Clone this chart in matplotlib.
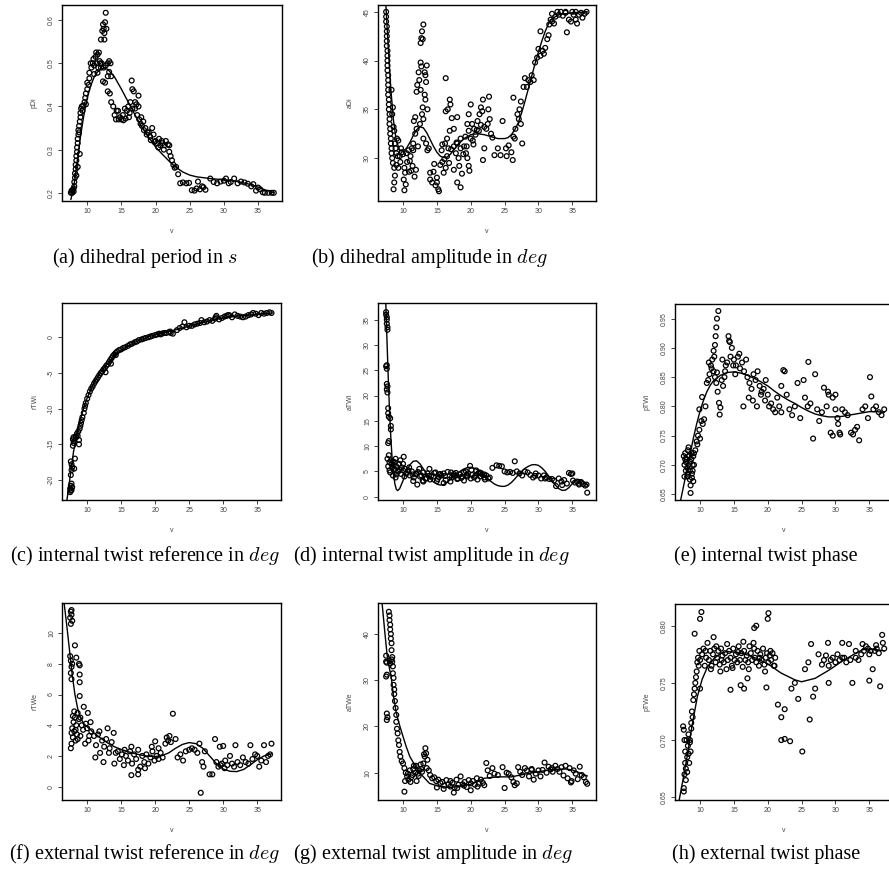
import matplotlib
matplotlib.use("Agg")
import matplotlib.pyplot as plt

plt.rcParams["font.family"] = ["Liberation Sans", "DejaVu Sans"]
plt.rcParams["mathtext.fontset"] = "cm"

# ---------------- data ----------------
x_ticks = [10, 15, 20, 25, 30, 35]

# (a) dihedral period
pdi_v = [7.6, 7.7, 7.8, 7.9, 8.0, 8.0, 8.1, 8.1, 8.2, 8.2,
         8.3, 8.3, 8.4, 8.4, 8.5, 8.5, 8.6, 8.6, 8.7, 8.7,
         8.8, 8.9, 9.0, 9.0, 9.1, 9.2, 9.4, 9.6, 9.7, 9.8,
         10.0, 10.0, 10.2, 10.3, 10.3, 10.5, 10.8, 11.0, 11.2, 11.3,
         11.5, 11.7, 11.8, 11.9, 12.0, 11.5, 11.0, 12.0, 12.2, 12.3,
         12.4, 12.5, 12.6, 12.7, 12.8, 12.5, 12.3, 12.6, 12.7, 13.0,
         13.2, 13.4, 13.2, 13.0, 13.5, 13.0, 13.3, 13.5, 13.8, 14.0,
         14.2, 14.5, 14.8, 15.0, 15.2, 15.5, 15.8, 16.0, 16.2, 16.3,
         16.5, 16.6, 16.8, 17.0, 17.0, 17.3, 17.5, 17.6, 17.8, 18.0,
         18.2, 18.5, 18.7, 19.0, 19.2, 19.5, 19.7, 20.0, 20.2, 20.5,
         20.7, 21.0, 21.3, 21.5, 21.8, 22.0, 22.0, 22.2, 22.4, 22.6,
         22.8, 23.0, 23.3, 23.6, 24.0, 24.5, 24.9, 25.3, 25.7, 26.0,
         26.2, 26.5, 26.8, 27.0, 27.3, 28.0, 28.5, 29.0, 29.5, 30.0,
         30.3, 30.7, 31.0, 31.5, 32.0, 32.5, 33.0, 33.5, 34.0, 34.3,
         34.7, 35.0, 35.3, 35.7, 36.0, 36.5, 37.0, 37.3, 10.6, 10.9,
         11.4, 11.6, 12.1, 12.4, 14.3, 14.6, 15.3, 15.6, 16.1, 16.6,
         17.2, 17.9, 18.3, 18.8, 19.3, 19.8, 20.4, 20.9, 21.2, 17.5,
         9.8, 9.3, 8.8, 8.9, 8.6, 8.4]
pdi_y = [0.200, 0.205, 0.200, 0.207, 0.203, 0.210, 0.215, 0.225, 0.235, 0.245,
         0.255, 0.265, 0.275, 0.285, 0.295, 0.305, 0.315, 0.325, 0.335, 0.345,
         0.355, 0.365, 0.375, 0.385, 0.395, 0.400, 0.402, 0.410, 0.420, 0.430,
         0.440, 0.455, 0.450, 0.465, 0.478, 0.500, 0.500, 0.495, 0.515, 0.525,
         0.520, 0.525, 0.505, 0.500, 0.490, 0.478, 0.475, 0.555, 0.575, 0.590,
         0.580, 0.570, 0.595, 0.617, 0.580, 0.555, 0.458, 0.455, 0.495, 0.500,
         0.505, 0.500, 0.480, 0.470, 0.470, 0.435, 0.430, 0.410, 0.400, 0.380,
         0.370, 0.390, 0.375, 0.370, 0.380, 0.395, 0.390, 0.400, 0.385, 0.410,
         0.460, 0.440, 0.435, 0.410, 0.395, 0.380, 0.400, 0.370, 0.360, 0.355,
         0.365, 0.350, 0.335, 0.340, 0.330, 0.350, 0.335, 0.320, 0.315, 0.325,
         0.310, 0.315, 0.310, 0.320, 0.312, 0.310, 0.295, 0.285, 0.275, 0.265,
         0.258, 0.260, 0.243, 0.222, 0.224, 0.222, 0.223, 0.206, 0.205, 0.210,
         0.226, 0.208, 0.215, 0.213, 0.207, 0.233, 0.225, 0.222, 0.226, 0.228,
         0.233, 0.222, 0.225, 0.233, 0.222, 0.226, 0.224, 0.221, 0.215, 0.220,
         0.205, 0.212, 0.208, 0.201, 0.200, 0.200, 0.200, 0.200, 0.490, 0.510,
         0.500, 0.490, 0.500, 0.490, 0.390, 0.370, 0.368, 0.372, 0.375, 0.395,
         0.405, 0.375, 0.345, 0.340, 0.322, 0.318, 0.305, 0.320, 0.300, 0.425,
         0.405, 0.390, 0.340, 0.290, 0.260, 0.240]
pdi_fit_v = [7.6, 8, 8.5, 9, 9.5, 10, 10.5, 11, 11.5, 12, 12.5, 13, 14, 15, 16,
             17, 18, 19, 20, 21, 22, 23, 24, 25, 26, 28, 30, 32, 34, 35, 36, 37.3]
pdi_fit = [0.185, 0.21, 0.27, 0.33, 0.38, 0.42, 0.448, 0.468, 0.48, 0.487, 0.489,
           0.486, 0.468, 0.44, 0.41, 0.38, 0.352, 0.328, 0.306, 0.289, 0.273,
           0.259, 0.248, 0.241, 0.237, 0.233, 0.230, 0.226, 0.219, 0.213, 0.207, 0.200]

# (b) dihedral amplitude
adi_v = [7.5, 7.5, 7.5, 7.6, 7.6, 7.6, 7.6, 7.6, 7.7, 7.7,
         7.7, 7.7, 7.7, 7.8, 7.8, 7.8, 7.8, 7.8, 7.9, 7.9,
         7.9, 8.0, 8.0, 8.0, 8.1, 8.1, 8.2, 8.2, 8.3, 8.3,
         8.4, 8.5, 8.5, 8.3, 8.4, 8.6, 8.7, 8.8, 8.9, 9.0,
         9.1, 9.3, 9.5, 8.7, 8.8, 8.7, 8.6, 9.0, 9.3, 9.6,
         9.8, 10.0, 10.2, 10.3, 10.1, 10.4, 10.2, 10.5, 10.8, 11.0,
         11.2, 11.5, 11.5, 11.8, 11.4, 11.7, 11.9, 11.6, 11.8, 12.0,
         12.0, 12.1, 12.3, 12.4, 12.6, 12.6, 12.7, 12.6, 12.7, 12.9,
         12.8, 13.0, 12.8, 13.0, 12.5, 12.9, 13.2, 13.3, 13.4, 13.5,
         13.2, 13.3, 13.6, 13.0, 13.4, 13.6, 13.8, 14.0, 14.0, 14.3,
         14.5, 14.8, 15.0, 15.2, 15.3, 15.0, 15.5, 15.8, 16.0, 16.3,
         16.5, 16.8, 15.8, 16.2, 16.5, 16.7, 16.9, 16.3, 16.6, 16.3,
         16.9, 17.0, 17.2, 17.5, 17.5, 17.8, 18.0, 18.2, 18.5, 18.3,
         18.7, 17.5, 18.0, 18.5, 18.0, 18.5, 19.0, 19.3, 19.5, 19.7,
         19.8, 19.2, 19.5, 19.7, 19.7, 20.0, 20.0, 20.3, 20.5, 20.7,
         20.2, 21.0, 21.2, 21.3, 21.5, 21.7, 21.8, 22.0, 22.3, 22.5,
         22.7, 22.8, 22.6, 22.0, 21.8, 23.0, 23.2, 23.5, 24.0, 24.4,
         24.7, 25.2, 25.3, 25.6, 26.0, 26.2, 26.3, 26.5, 26.6, 26.3,
         26.9, 27.1, 27.2, 27.4, 27.4, 27.6, 27.8, 28.0, 28.3, 28.5,
         28.8, 29.0, 29.3, 29.5, 29.8, 30.0, 30.3, 30.3, 30.6, 30.8,
         31.0, 31.3, 31.5, 31.6, 31.8, 32.0, 32.0, 32.3, 32.5, 32.8,
         33.0, 33.3, 33.6, 34.0, 34.2, 34.5, 34.8, 35.0, 35.2, 35.5,
         35.7, 36.0, 36.3, 36.5, 36.8, 37.1, 34.0, 35.5,
         10.6, 11.3, 12.2, 14.6, 15.7, 16.1, 17.1, 17.9, 18.9, 19.4,
         20.4, 20.9, 21.5, 10.9, 11.1, 9.2, 9.7]
adi_y = [45.0, 44.5, 44.0, 43.5, 43.0, 42.5, 42.0, 41.5, 41.0, 40.5,
         40.0, 39.5, 39.0, 38.5, 38.0, 37.5, 37.0, 36.5, 36.0, 35.5,
         35.0, 34.5, 34.0, 33.5, 33.0, 32.5, 32.0, 31.5, 31.0, 30.5,
         30.0, 29.5, 35.2, 37.0, 34.5, 33.2, 32.8, 31.5, 31.0, 30.5,
         32.0, 31.8, 30.2, 29.0, 28.2, 27.5, 26.8, 29.3, 29.0, 29.6,
         30.6, 30.4, 29.0, 28.5, 27.8, 27.3, 26.7, 30.5, 30.8, 29.7,
         28.7, 30.8, 31.5, 32.5, 29.2, 28.1, 28.8, 33.8, 34.2, 33.0,
         36.8, 37.5, 38.8, 38.0, 37.0, 39.8, 39.4, 41.8, 42.3, 42.2,
         43.0, 43.7, 34.5, 34.0, 33.5, 35.2, 38.8, 38.5, 37.8, 39.5,
         36.5, 36.0, 35.0, 32.0, 31.5, 30.8, 31.0, 28.5, 27.8, 27.5,
         28.6, 27.2, 27.5, 26.8, 26.6, 28.0, 29.3, 29.6, 28.5, 29.0,
         30.2, 29.5, 31.4, 31.5, 32.0, 31.0, 32.8, 34.8, 35.0, 38.2,
         36.0, 35.5, 34.1, 33.0, 31.2, 30.5, 31.5, 30.0, 31.0, 29.2,
         28.4, 28.8, 27.5, 27.0, 34.2, 32.0, 31.2, 30.5, 30.0, 29.2,
         28.7, 32.2, 33.5, 32.8, 34.5, 35.5, 32.0, 31.8, 33.0, 32.4,
         33.5, 33.8, 32.8, 34.5, 35.2, 34.8, 36.0, 33.2, 33.0, 33.5,
         36.3, 34.0, 35.0, 31.0, 29.8, 32.5, 32.1, 30.3, 31.0, 30.3,
         33.8, 31.0, 30.2, 31.3, 30.6, 29.8, 32.2, 32.0, 33.0, 36.2,
         34.5, 34.0, 35.0, 35.8, 33.5, 31.5, 37.3, 38.2, 37.3, 38.0,
         37.8, 38.5, 38.0, 39.8, 40.3, 41.2, 40.5, 43.0, 41.0, 40.7,
         41.3, 42.2, 42.6, 43.7, 44.2, 44.0, 44.8, 43.8, 44.5, 45.0,
         44.7, 45.0, 44.6, 44.9, 42.9, 44.2, 44.0, 45.0, 44.7, 44.2,
         43.8, 44.7, 44.9, 44.4, 44.8, 45.0, 45.0, 45.0,
         29.6, 31.0, 31.2, 29.4, 30.8, 29.9, 30.9, 31.6, 30.4, 31.2,
         31.4, 32.9, 33.4, 28.6, 30.2, 30.2, 31.0]
adi_fit_v = [7.4, 7.8, 8.2, 8.6, 9.0, 9.5, 10, 10.5, 11, 11.5, 12, 12.5, 13, 13.5,
             14, 14.5, 15, 15.5, 16, 16.5, 17, 18, 19, 20, 21, 22, 23, 24, 25,
             25.5, 26, 26.5, 27, 27.5, 28, 28.5, 29, 29.5, 30, 30.5, 31, 31.5,
             32, 33, 34, 35, 36, 37.2]
adi_fit = [46.5, 41.5, 37.0, 33.8, 31.8, 30.8, 30.7, 31.0, 31.6, 32.3, 32.9, 33.2,
           33.1, 32.6, 31.9, 31.2, 30.6, 30.2, 30.05, 30.1, 30.4, 31.3, 32.0, 32.4,
           32.5, 32.4, 32.2, 32.0, 32.0, 32.1, 32.4, 32.9, 33.6, 34.6, 35.8, 37.1,
           38.4, 39.7, 40.9, 42.0, 43.0, 43.8, 44.3, 44.7, 44.8, 44.9, 44.95, 45.0]

# (c) internal twist reference
rtwi_v = [7.5, 7.5, 7.6, 7.6, 7.7, 7.7, 7.8, 7.6, 7.7, 7.7,
          7.6, 7.8, 7.9, 7.9, 8.0, 8.0, 8.1, 8.2, 8.1, 8.3,
          8.4, 8.5, 8.6, 8.7, 8.8, 8.8, 8.9, 9.0, 9.1, 9.2,
          9.3, 9.5, 9.6, 9.7, 9.8, 10.0, 10.2, 10.4, 10.6, 10.8,
          11.0, 11.2, 11.4, 11.6, 11.8, 12.0, 12.2, 12.4, 12.6, 12.8,
          13.0, 13.2, 13.4, 13.6, 13.8, 14.0, 14.2, 14.4, 14.7, 15.0,
          15.3, 15.6, 16.0, 16.3, 16.6, 17.0, 17.3, 17.6, 18.0, 18.3,
          18.6, 19.0, 19.3, 19.6, 20.0, 20.3, 20.6, 21.0, 21.3, 21.6,
          22.0, 22.3, 22.6, 23.2, 23.6, 24.0, 24.3, 24.6, 25.0, 25.4,
          25.8, 26.2, 26.6, 26.8, 27.2, 27.6, 28.0, 28.4, 28.8, 29.0,
          29.4, 29.8, 30.2, 30.5, 30.9, 31.3, 31.7, 32.1, 32.5, 32.9,
          33.3, 33.7, 34.1, 34.4, 34.8, 35.2, 35.6, 36.0, 36.4, 36.8,
          37.1, 12.7, 13.5, 14.2, 20.8, 22.2, 28.9, 30.7]
rtwi_y = [-21.7, -21.2, -21.5, -20.8, -21.4, -20.5, -21.0, -19.3, -18.6, -17.8,
          -17.4, -18.2, -15.2, -14.3, -14.8, -14.0, -18.4, -17.0, -14.5, -13.9,
          -14.0, -13.5, -13.8, -13.2, -15.0, -14.4, -12.8, -12.4, -12.0, -11.6,
          -11.2, -10.6, -10.0, -9.6, -9.2, -8.6, -8.1, -7.6, -7.2, -6.9,
          -6.5, -6.2, -5.9, -5.6, -5.3, -5.0, -4.8, -4.5, -4.3, -4.0,
          -3.8, -3.5, -3.2, -2.9, -2.6, -2.4, -2.2, -2.0, -1.8, -1.7,
          -1.5, -1.4, -1.2, -1.0, -0.9, -0.7, -0.6, -0.4, -0.3, -0.2,
          -0.1, 0.0, 0.1, 0.2, 0.3, 0.4, 0.5, 0.5, 0.6, 0.6,
          0.7, 0.6, 0.5, 1.0, 1.3, 1.5, 2.1, 1.4, 1.6, 1.6,
          1.8, 1.9, 2.0, 2.4, 2.1, 2.2, 2.4, 2.3, 2.6, 3.0,
          2.5, 2.7, 2.9, 3.0, 3.1, 2.8, 3.2, 3.0, 2.9, 2.8,
          2.9, 3.1, 3.2, 3.4, 3.3, 3.1, 3.4, 3.3, 3.4, 3.5,
          3.4, -4.9, -3.7, -2.5, 0.4, 0.8, 2.8, 3.1]
rtwi_fit_v = [7.0, 7.5, 8, 8.5, 9, 9.5, 10, 11, 12, 13, 14, 15, 16, 17, 18, 19,
              20, 22, 24, 26, 28, 30, 32, 34, 36, 37.2]
rtwi_fit = [-23.0, -19.5, -16.0, -13.5, -11.5, -9.9, -8.5, -6.4, -4.9, -3.7, -2.6,
            -1.8, -1.2, -0.7, -0.3, 0.05, 0.35, 0.8, 1.3, 1.8, 2.3, 2.7, 2.95,
            3.15, 3.3, 3.4]

# (d) internal twist amplitude
atwi_v = [7.5, 7.5, 7.6, 7.6, 7.6, 7.7, 7.7, 7.6, 7.6, 7.5,
          7.6, 7.7, 7.6, 7.7, 7.8, 7.8, 7.9, 7.9, 8.1, 8.2,
          8.2, 7.8, 7.9, 7.7, 8.0, 7.8, 8.0, 8.2, 8.3, 8.4,
          8.5, 8.6, 8.7, 8.8, 8.9, 9.0, 9.2, 9.4, 9.6, 9.8,
          10.0, 10.1, 10.3, 8.1, 8.5, 8.9, 9.3, 9.7, 10.0, 10.5,
          10.8, 11.0, 11.3, 11.6, 11.9, 12.1, 12.4, 12.7, 13.0, 13.3,
          13.6, 13.9, 14.2, 14.5, 14.8, 15.1, 15.4, 15.7, 16.0, 16.3,
          16.6, 16.9, 17.2, 17.5, 17.8, 18.1, 18.4, 18.7, 19.0, 19.3,
          19.6, 19.9, 20.2, 20.5, 20.8, 21.1, 21.4, 21.7, 22.0, 22.3,
          22.6, 12.0, 13.0, 14.0, 15.0, 16.0, 17.0, 18.0, 19.0, 20.0,
          21.0, 22.0, 11.5, 12.5, 13.5, 15.5, 17.5, 19.5, 21.5, 23.2,
          23.8, 24.2, 24.6, 25.0, 25.4, 25.8, 26.2, 26.5, 26.8, 27.2,
          27.6, 28.0, 28.4, 28.8, 29.2, 29.6, 30.0, 30.4, 30.8, 31.2,
          31.6, 32.0, 32.3, 32.6, 33.0, 33.4, 33.8, 34.2, 34.5, 34.8,
          35.1, 35.4, 35.7, 36.0, 36.3, 36.6, 36.9, 37.1, 37.2, 29.5,
          31.0, 33.5, 35.0, 36.0,
          10.2, 10.9, 11.4, 12.2, 12.9, 13.8, 14.6, 15.3, 16.2, 17.1,
          17.9, 18.6, 19.4, 20.1, 20.7, 21.3, 22.1, 22.8, 9.0, 9.5]
atwi_y = [36.5, 36.0, 35.5, 35.0, 34.2, 33.5, 33.0, 26.0, 25.3, 25.8,
          22.3, 21.8, 21.2, 20.6, 17.5, 16.5, 15.8, 11.0, 15.5, 14.0,
          13.3, 10.6, 8.2, 7.5, 6.8, 6.0, 5.2, 7.2, 6.5, 5.8,
          7.0, 6.2, 5.5, 6.8, 7.5, 6.0, 5.0, 6.5, 7.2, 5.8,
          6.5, 7.9, 5.5, 4.8, 4.2, 3.8, 5.0, 4.5, 5.2, 4.6,
          5.2, 4.2, 5.0, 3.8, 4.5, 2.4, 5.5, 4.2, 4.8, 3.6,
          4.6, 5.5, 4.2, 4.0, 4.8, 3.5, 4.4, 4.2, 4.6, 3.3,
          4.9, 4.2, 3.8, 4.5, 4.7, 3.6, 4.4, 4.0, 4.8, 5.0,
          4.6, 6.1, 4.3, 3.8, 5.2, 4.6, 4.0, 4.4, 3.8, 4.2,
          3.6, 4.5, 3.0, 3.4, 3.1, 2.7, 3.0, 3.5, 3.2, 3.6,
          3.4, 4.4, 3.1, 4.0, 3.6, 4.5, 4.2, 4.0, 4.7, 5.7,
          6.2, 6.1, 6.0, 5.0, 4.8, 4.9, 4.7, 7.0, 5.0, 4.6,
          4.2, 5.0, 4.8, 4.3, 3.8, 4.6, 4.2, 3.6, 4.2, 3.8,
          3.5, 3.5, 3.2, 2.1, 3.6, 3.0, 3.3, 2.6, 4.7, 4.5,
          3.2, 2.8, 3.0, 2.6, 2.9, 2.5, 2.2, 2.4, 0.8, 4.1,
          3.6, 2.3, 4.6, 2.4,
          4.0, 5.8, 4.4, 4.9, 3.2, 4.1, 4.7, 3.9, 4.1, 4.8,
          4.2, 3.7, 4.3, 5.3, 4.1, 4.8, 3.4, 3.8, 4.4, 5.4]
atwi_fit_v = [7.45, 7.6, 7.8, 8.0, 8.2, 8.4, 8.6, 8.8, 9.0, 9.2, 9.5, 10, 10.5,
              11, 11.5, 12, 12.5, 13, 13.5, 14, 14.5, 15, 15.5, 16, 16.5, 17,
              17.5, 18, 18.5, 19, 19.5, 20, 20.5, 21, 21.5, 22, 22.5, 23, 23.5,
              24, 24.5, 25, 25.5, 26, 26.5, 27, 27.5, 28, 28.5, 29, 29.5, 30,
              30.5, 31, 31.5, 32, 32.5, 33, 33.5, 34, 34.5, 35, 35.5, 36, 36.5, 37.2]
atwi_fit = [38.5, 32.0, 24.0, 17.0, 11.5, 7.2, 4.3, 2.5, 1.5, 1.2, 1.6, 3.2, 5.0,
            6.3, 7.0, 7.1, 6.5, 5.5, 4.5, 3.6, 2.9, 2.5, 2.3, 2.4, 2.8, 3.4, 4.0,
            4.6, 5.1, 5.5, 5.75, 5.8, 5.65, 5.3, 4.8, 4.2, 3.6, 3.0, 2.5, 2.2,
            2.05, 2.05, 2.3, 2.8, 3.5, 4.3, 5.0, 5.6, 6.0, 6.3, 6.35, 6.2, 5.7,
            5.0, 4.1, 3.2, 2.3, 1.6, 1.25, 1.3, 1.8, 2.6, 3.2, 3.4, 3.1, 2.3]

# (e) internal twist phase
ptwi_v = [7.6, 7.7, 7.8, 7.9, 8.0, 8.1, 8.2, 8.3, 8.4, 8.5,
          8.6, 8.7, 8.8, 8.9, 9.0, 7.7, 7.9, 8.1, 8.3, 8.5,
          8.7, 8.9, 9.1, 7.8, 8.2, 8.6, 9.0, 8.6, 8.8, 9.1,
          9.3, 9.5, 9.7, 9.9, 10.0, 10.2, 10.4, 9.6, 9.9, 10.3,
          10.6, 10.8, 11.0, 11.2, 11.4, 11.6, 11.8, 12.0, 12.2, 12.4,
          11.3, 11.7, 12.1, 12.5, 12.0, 12.2, 12.3, 12.4, 12.5, 12.7,
          12.6, 12.8, 12.9, 13.0, 13.2, 13.4, 13.6, 13.8, 13.3, 13.7,
          14.0, 14.2, 14.3, 14.5, 14.7, 14.9, 14.4, 15.0, 15.3, 15.6,
          15.9, 16.2, 16.5, 16.8, 15.2, 15.8, 16.4, 17.0, 17.3, 17.6,
          17.9, 18.2, 18.5, 18.8, 19.1, 19.4, 19.7, 20.0, 17.2, 17.8,
          18.4, 19.0, 19.6, 20.2, 20.5, 20.8, 21.1, 21.4, 21.7, 22.0,
          22.3, 22.0, 22.5, 22.8, 23.2, 23.6, 24.0, 24.4, 24.8, 25.3,
          25.5, 25.9, 26.0, 26.3, 26.7, 27.0, 27.3, 27.6, 28.0, 28.3,
          28.7, 29.0, 29.3, 29.6, 30.0, 30.3, 30.6, 31.0, 31.4, 31.8,
          28.9, 29.6, 30.4, 30.7, 32.3, 32.6, 32.9, 33.5, 34.0, 34.4,
          34.8, 35.1, 35.3, 35.6, 36.0, 36.4, 36.8, 37.2, 33.2, 30.0]
ptwi_y = [0.715, 0.700, 0.720, 0.690, 0.710, 0.680, 0.725, 0.700, 0.715, 0.690,
          0.705, 0.720, 0.685, 0.700, 0.715, 0.680, 0.705, 0.695, 0.730, 0.675,
          0.710, 0.690, 0.720, 0.710, 0.685, 0.665, 0.672, 0.652, 0.678, 0.700,
          0.725, 0.740, 0.750, 0.760, 0.745, 0.775, 0.770, 0.735, 0.795, 0.816,
          0.778, 0.800, 0.840, 0.845, 0.855, 0.870, 0.880, 0.860, 0.850, 0.840,
          0.875, 0.865, 0.885, 0.858, 0.895, 0.905, 0.920, 0.935, 0.950, 0.963,
          0.825, 0.806, 0.786, 0.798, 0.845, 0.835, 0.850, 0.870, 0.880, 0.860,
          0.875, 0.920, 0.912, 0.885, 0.900, 0.870, 0.910, 0.880, 0.870, 0.885,
          0.865, 0.875, 0.860, 0.880, 0.855, 0.890, 0.800, 0.850, 0.840, 0.830,
          0.855, 0.845, 0.860, 0.835, 0.825, 0.830, 0.845, 0.820, 0.815, 0.810,
          0.800, 0.820, 0.810, 0.800, 0.805, 0.795, 0.790, 0.815, 0.800, 0.835,
          0.862, 0.790, 0.860, 0.820, 0.795, 0.785, 0.800, 0.840, 0.780, 0.845,
          0.815, 0.800, 0.876, 0.805, 0.745, 0.855, 0.795, 0.775, 0.790, 0.832,
          0.800, 0.820, 0.755, 0.750, 0.795, 0.780, 0.755, 0.795, 0.790, 0.785,
          0.825, 0.815, 0.770, 0.752, 0.755, 0.752, 0.760, 0.742, 0.795, 0.800,
          0.780, 0.850, 0.817, 0.795, 0.800, 0.790, 0.785, 0.795, 0.765, 0.820]
ptwi_fit_v = [7.1, 7.5, 8, 8.5, 9, 9.5, 10, 10.5, 11, 11.5, 12, 13, 14, 15, 16, 17,
              18, 19, 20, 21, 22, 23, 24, 25, 26, 27, 28, 29, 30, 31, 32, 33, 34,
              35, 36, 37.2]
ptwi_fit = [0.638, 0.66, 0.688, 0.716, 0.745, 0.77, 0.792, 0.81, 0.825, 0.836,
            0.844, 0.853, 0.858, 0.859, 0.857, 0.853, 0.848, 0.842, 0.835, 0.826,
            0.818, 0.811, 0.805, 0.798, 0.792, 0.787, 0.784, 0.782, 0.782, 0.783,
            0.785, 0.787, 0.789, 0.791, 0.791, 0.790]

# (f) external twist reference
rtwe_v = [7.5, 7.6, 7.7, 7.8, 7.6, 7.7, 7.5, 7.6, 7.7, 7.6,
          7.7, 7.8, 8.2, 8.4, 8.8, 8.9, 8.9, 8.9, 8.9, 7.6,
          7.7, 7.8, 7.9, 8.0, 8.1, 8.2, 8.3, 8.4, 8.5, 7.7,
          7.9, 8.1, 8.3, 8.6, 8.8, 9.0, 9.2, 9.5, 9.7, 10.0,
          10.1, 10.3, 10.5, 8.6, 9.0, 9.4, 9.8, 10.2, 10.6, 11.0,
          11.3, 11.6, 11.9, 12.2, 12.5, 12.8, 13.0, 13.3, 13.6, 13.9,
          14.2, 11.2, 11.8, 12.4, 13.2, 14.0, 14.5, 14.8, 15.1, 15.4,
          15.7, 16.0, 16.3, 16.6, 16.9, 17.2, 17.5, 17.8, 18.1, 18.4,
          18.7, 19.0, 19.3, 19.6, 19.9, 20.2, 20.5, 20.8, 21.1, 15.5,
          16.5, 17.5, 18.5, 19.5, 20.0, 16.5, 17.5, 20.5, 21.5, 21.7,
          21.9, 22.1, 22.3, 22.6, 23.0, 23.3, 23.7, 24.1, 24.5, 25.0,
          25.4, 25.8, 26.2, 26.5, 26.7, 26.9, 27.1, 27.3, 28.0, 28.4,
          28.8, 29.0, 29.3, 29.5, 29.8, 30.0, 30.3, 30.6, 31.0, 31.3,
          31.6, 31.8, 32.1, 32.5, 32.9, 33.3, 33.7, 34.0, 34.3, 34.7,
          35.0, 35.3, 35.6, 36.0, 36.3, 36.6, 36.9, 37.1, 29.6, 30.2]
rtwe_y = [11.0, 11.4, 11.2, 10.8, 10.6, 11.5, 8.5, 8.2, 7.8, 7.4,
          7.0, 8.0, 9.2, 8.4, 8.0, 7.3, 6.8, 5.9, 7.9, 2.5,
          3.5, 3.8, 3.2, 4.2, 3.6, 4.5, 3.0, 4.0, 3.4, 2.8,
          4.6, 4.9, 3.7, 4.8, 4.4, 3.3, 4.0, 5.2, 2.8, 3.8,
          4.8, 3.3, 4.2, 3.1, 4.5, 3.7, 4.1, 3.0, 3.6, 3.3,
          2.7, 3.4, 2.2, 3.0, 2.6, 3.1, 3.8, 2.5, 2.9, 3.5,
          2.2, 1.9, 3.6, 1.6, 2.2, 1.5, 2.3, 1.8, 2.1, 1.4,
          2.0, 1.7, 2.3, 1.5, 2.1, 1.8, 2.4, 1.3, 2.0, 1.6,
          2.1, 1.5, 1.9, 2.3, 1.7, 2.0, 1.8, 2.2, 1.9, 2.4,
          0.75, 0.8, 1.2, 2.6, 2.95, 2.6, 1.1, 2.5, 2.8, 3.2,
          3.0, 3.3, 2.9, 4.75, 3.1, 1.9, 2.1, 1.7, 2.3, 2.4,
          2.5, 2.4, 2.2, 2.8, -0.4, 1.6, 1.3, 2.3, 0.8, 0.8,
          3.1, 1.6, 1.3, 2.6, 1.5, 2.65, 1.7, 1.4, 2.0, 1.5,
          1.3, 2.7, 1.6, 1.4, 1.9, 1.6, 1.5, 2.7, 1.8, 2.1,
          2.0, 1.3, 1.7, 2.7, 1.6, 2.0, 2.1, 2.8, 1.4, 1.2]
rtwe_fit_v = [6.6, 7.0, 7.4, 7.8, 8.2, 8.6, 9.0, 9.5, 10, 11, 12, 13, 14, 15, 16,
              17, 18, 19, 20, 21, 22, 23, 24, 25, 26, 27, 28, 29, 30, 31, 32, 33,
              34, 35, 36, 37.2]
rtwe_fit = [12.0, 10.5, 8.9, 7.3, 6.0, 5.1, 4.5, 4.1, 3.9, 3.5, 3.15, 2.85, 2.6,
            2.42, 2.28, 2.15, 2.05, 1.98, 1.96, 2.02, 2.2, 2.5, 2.75, 2.87, 2.8,
            2.5, 2.0, 1.5, 1.15, 1.0, 0.98, 1.12, 1.42, 1.75, 2.0, 2.15]

# (g) external twist amplitude
atwe_v = [7.9, 8.0, 8.0, 8.1, 8.1, 8.2, 8.2, 8.3, 8.3, 8.4,
          8.4, 8.5, 8.5, 8.6, 8.6, 8.7, 8.7, 8.8, 8.9, 9.0,
          9.0, 9.1, 9.2, 9.3, 9.4, 9.5, 9.6, 9.8, 10.0, 7.5,
          7.6, 7.5, 7.6, 7.5, 7.6, 7.7, 7.6, 8.0, 8.1, 8.3,
          10.2, 10.4, 10.6, 10.8, 11.0, 11.2, 11.4, 11.6, 11.8, 12.0,
          12.2, 12.4, 12.6, 12.8, 13.0, 13.2, 13.4, 13.6, 13.8, 14.0,
          10.3, 10.7, 11.1, 11.5, 11.9, 12.3, 12.7, 13.1, 13.3, 13.5,
          14.3, 14.6, 14.9, 15.2, 15.5, 15.8, 16.1, 16.4, 16.7, 17.0,
          17.3, 17.6, 17.9, 18.2, 18.5, 18.8, 19.1, 19.4, 19.7, 20.0,
          20.3, 20.6, 20.9, 21.2, 21.5, 21.8, 15.0, 16.0, 17.0, 17.5,
          18.0, 19.0, 20.0, 21.0, 22.0, 22.3, 22.5, 22.8, 23.2, 23.5,
          24.0, 24.7, 25.0, 25.3, 25.6, 26.0, 26.3, 26.5, 26.8, 27.0,
          27.3, 27.6, 28.0, 28.3, 28.6, 29.0, 29.3, 29.6, 30.0, 30.3,
          30.6, 30.9, 31.2, 31.5, 31.8, 32.1, 32.5, 32.8, 33.1, 33.4,
          33.7, 34.0, 34.3, 34.6, 34.9, 35.2, 35.5, 35.8, 36.1, 36.4,
          36.7, 37.0, 37.2, 10.2, 29.0, 32.0, 34.8]
atwe_y = [44.8, 44.0, 43.0, 42.0, 41.0, 40.0, 39.0, 38.0, 36.5, 35.0,
          34.0, 33.0, 31.5, 30.5, 29.0, 28.0, 27.0, 25.5, 24.0, 22.5,
          21.0, 19.5, 18.5, 17.0, 16.0, 14.5, 13.5, 12.5, 12.0, 34.0,
          33.8, 35.3, 31.2, 30.8, 22.8, 22.0, 21.4, 34.2, 33.6, 34.5,
          11.0, 10.0, 9.2, 8.5, 10.5, 9.0, 9.5, 11.5, 10.0, 8.2,
          9.8, 10.5, 11.8, 10.2, 12.0, 13.5, 14.2, 12.8, 10.5, 9.5,
          8.2, 9.8, 8.0, 10.8, 11.5, 9.3, 10.8, 14.0, 15.3, 11.0,
          8.8, 9.0, 8.2, 8.5, 7.8, 8.0, 7.2, 8.4, 7.5, 8.2,
          7.8, 6.8, 8.5, 7.4, 9.2, 7.5, 8.0, 6.9, 8.4, 7.7,
          8.2, 7.4, 8.8, 7.6, 8.5, 7.8, 6.8, 6.5, 7.0, 5.7,
          6.7, 7.2, 6.2, 7.0, 7.3, 12.1, 10.5, 9.3, 11.0, 9.8,
          9.5, 11.2, 6.7, 10.0, 9.8, 9.0, 8.0, 7.3, 7.7, 11.2,
          10.2, 9.5, 11.0, 10.5, 9.2, 10.6, 8.5, 9.8, 10.5, 9.2,
          10.6, 12.2, 10.0, 11.3, 10.7, 10.2, 11.5, 10.8, 10.2, 11.2,
          9.4, 11.5, 8.8, 11.0, 8.2, 10.5, 9.8, 8.6, 11.3, 9.5,
          9.0, 8.0, 7.6, 5.9, 10.8, 11.0, 7.9]
atwe_fit_v = [6.9, 7.3, 7.64, 8.0, 8.3, 8.6, 9.0, 9.5, 10, 10.5, 11, 12, 12.5,
              13.9, 15.4, 17, 20, 22, 24, 26, 28, 30, 32, 34, 35, 36, 37.2]
atwe_fit = [46.7, 40.5, 35.5, 32.5, 30.1, 26.5, 22.9, 20.2, 17.8, 15.5, 13.5, 11.0,
            9.9, 7.7, 7.0, 6.8, 7.5, 8.8, 9.1, 9.1, 9.7, 10.2, 10.7, 10.8, 10.6,
            10.0, 9.3]

# (h) external twist phase
ptwe_v = [7.6, 7.6, 7.5, 7.6, 7.7, 7.8, 7.7, 7.8, 7.9, 8.0,
          8.1, 8.2, 8.3, 8.4, 8.5, 8.6, 8.7, 7.9, 8.1, 8.3,
          8.5, 8.7, 8.8, 8.9, 9.0, 9.1, 9.2, 9.3, 9.4, 9.5,
          9.6, 9.7, 9.8, 9.9, 10.0, 10.0, 10.2, 9.2, 10.0, 10.3,
          10.5, 10.7, 10.9, 11.1, 11.3, 11.5, 11.7, 11.9, 12.1, 12.3,
          12.5, 12.7, 12.9, 13.1, 13.3, 13.5, 13.7, 13.9, 14.1, 14.3,
          14.5, 14.7, 14.9, 15.1, 15.3, 15.5, 15.7, 15.9, 16.1, 16.3,
          16.5, 16.7, 16.9, 17.1, 17.3, 17.5, 17.7, 17.9, 18.1, 18.3,
          18.5, 18.7, 18.9, 19.1, 19.3, 19.5, 19.7, 19.9, 20.1, 20.3,
          20.5, 20.7, 20.9, 21.1, 12.0, 13.0, 14.5, 16.0, 16.5, 17.0,
          18.0, 18.3, 20.0, 20.1, 19.8, 21.0, 21.5, 22.0, 22.5, 22.0,
          22.5, 23.3, 23.5, 24.0, 24.5, 25.1, 25.5, 26.0, 26.2, 26.4,
          26.7, 27.0, 27.5, 28.0, 28.3, 28.6, 28.9, 29.0, 29.3, 29.6,
          30.0, 30.3, 30.6, 31.0, 31.3, 31.6, 32.0, 32.5, 33.0, 33.4,
          33.8, 34.2, 34.5, 34.8, 35.0, 35.2, 35.5, 35.8, 36.1, 36.4,
          36.6, 36.9, 37.2, 29.0, 31.0, 32.2,
          10.8, 11.6, 12.4, 13.2, 14.0, 14.8, 15.6, 16.4, 17.2, 18.0,
          18.8, 19.6, 20.4, 33.0, 34.0, 35.0, 36.0, 37.0]
ptwe_y = [0.655, 0.658, 0.712, 0.709, 0.700, 0.680, 0.670, 0.690, 0.675, 0.700,
          0.685, 0.695, 0.705, 0.680, 0.700, 0.690, 0.710, 0.665, 0.672, 0.688,
          0.698, 0.715, 0.725, 0.720, 0.735, 0.740, 0.745, 0.750, 0.755, 0.760,
          0.768, 0.772, 0.765, 0.778, 0.806, 0.770, 0.812, 0.793, 0.745, 0.775,
          0.780, 0.765, 0.772, 0.785, 0.770, 0.778, 0.765, 0.775, 0.780, 0.768,
          0.772, 0.778, 0.766, 0.780, 0.774, 0.768, 0.776, 0.762, 0.770, 0.778,
          0.772, 0.765, 0.780, 0.770, 0.775, 0.768, 0.782, 0.770, 0.776, 0.764,
          0.778, 0.770, 0.774, 0.768, 0.782, 0.776, 0.770, 0.785, 0.772, 0.768,
          0.778, 0.765, 0.775, 0.770, 0.780, 0.766, 0.772, 0.776, 0.768, 0.774,
          0.770, 0.776, 0.765, 0.772, 0.790, 0.760, 0.744, 0.748, 0.745, 0.754,
          0.798, 0.800, 0.806, 0.811, 0.746, 0.765, 0.731, 0.720, 0.727, 0.700,
          0.701, 0.699, 0.745, 0.750, 0.736, 0.690, 0.762, 0.768, 0.718, 0.784,
          0.738, 0.745, 0.775, 0.766, 0.770, 0.774, 0.785, 0.750, 0.770, 0.772,
          0.768, 0.775, 0.770, 0.785, 0.772, 0.768, 0.784, 0.750, 0.772, 0.770,
          0.775, 0.778, 0.782, 0.780, 0.752, 0.778, 0.762, 0.778, 0.780, 0.776,
          0.747, 0.792, 0.780, 0.765, 0.772, 0.770,
          0.778, 0.762, 0.782, 0.770, 0.784, 0.763, 0.777, 0.786, 0.762, 0.780,
          0.772, 0.760, 0.778, 0.778, 0.784, 0.775, 0.783, 0.785]
ptwe_fit_v = [6.9, 7.5, 8.1, 8.8, 9.6, 10.3, 11.1, 12, 13.1, 14, 15.5, 17, 18.5,
              20, 22, 24, 25, 27, 29, 31, 33, 34, 35, 36, 37.2]
ptwe_fit = [0.647, 0.666, 0.686, 0.712, 0.738, 0.753, 0.764, 0.771, 0.776, 0.7775,
            0.7765, 0.7745, 0.771, 0.7667, 0.7585, 0.7527, 0.751, 0.754, 0.761,
            0.769, 0.776, 0.779, 0.7796, 0.779, 0.778]

# ---------------- layout ----------------
W, H = 889, 873
fig = plt.figure(figsize=(W / 100, H / 100), dpi=100)


def rect(l, t, r, b):
    return [l / W, 1 - b / H, (r - l) / W, (b - t) / H]


panels = [
    (rect(62, 5, 282, 201), pdi_v, pdi_y, pdi_fit_v, pdi_fit, (0.181, 0.635),
     [0.2, 0.3, 0.4, 0.5, 0.6], ["0.2", "0.3", "0.4", "0.5", "0.6"], "pDi"),
    (rect(378, 5, 596, 201), adi_v, adi_y, adi_fit_v, adi_fit, (25.6, 45.7),
     [30, 35, 40, 45], ["30", "35", "40", "45"], "aDi"),
    (rect(62, 303, 281, 500), rtwi_v, rtwi_y, rtwi_fit_v, rtwi_fit, (-22.8, 4.8),
     [-20, -15, -10, -5, 0], ["-20", "-15", "-10", "-5", "0"], "rTWi"),
    (rect(378, 303, 596, 500), atwi_v, atwi_y, atwi_fit_v, atwi_fit, (-0.65, 38.3),
     [0, 5, 10, 15, 20, 25, 30, 35], ["0", "5", "10", "15", "20", "25", "30", "35"], "aTWi"),
    (rect(675, 304, 893, 500), ptwi_v, ptwi_y, ptwi_fit_v, ptwi_fit, (0.640, 0.975),
     [0.65, 0.70, 0.75, 0.80, 0.85, 0.90, 0.95],
     ["0.65", "0.70", "0.75", "0.80", "0.85", "0.90", "0.95"], "pTWi"),
    (rect(62, 603, 281, 800), rtwe_v, rtwe_y, rtwe_fit_v, rtwe_fit, (-0.87, 11.96),
     [0, 2, 4, 6, 8, 10], ["0", "2", "4", "6", "8", "10"], "rTWe"),
    (rect(378, 603, 596, 800), atwe_v, atwe_y, atwe_fit_v, atwe_fit, (4.1, 46.7),
     [10, 20, 30, 40], ["10", "20", "30", "40"], "aTWe"),
    (rect(675, 604, 893, 800), ptwe_v, ptwe_y, ptwe_fit_v, ptwe_fit, (0.6476, 0.819),
     [0.65, 0.70, 0.75, 0.80], ["0.65", "0.70", "0.75", "0.80"], "pTWe"),
]

for pos, xs, ys, fx, fy, ylim, yt, ytl, ylab in panels:
    ax = fig.add_axes(pos)
    ax.scatter(xs, ys, s=12, facecolors="none", edgecolors="black", linewidths=0.9)
    ax.plot(fx, fy, color="black", lw=1.0)
    ax.set_xlim(6.3, 38.5)
    ax.set_ylim(*ylim)
    ax.set_xticks(x_ticks)
    ax.set_xticklabels([str(t) for t in x_ticks])
    ax.set_yticks(yt)
    ax.set_yticklabels(ytl, rotation=90, va="center")
    ax.tick_params(length=3, width=0.6, pad=2, labelsize=5, colors="#222222",
                   labelcolor="#444444")
    for sp in ax.spines.values():
        sp.set_linewidth(1.0)
    w_px = pos[2] * W
    h_px = pos[3] * H
    ax.set_xlabel("v", fontsize=5, color="#444444")
    ax.set_ylabel(ylab, fontsize=5, color="#444444")
    ax.xaxis.set_label_coords(0.5, -27 / h_px)
    ax.yaxis.set_label_coords(-24 / w_px, 0.5)

captions = [
    (145, 258, "(a) dihedral period in $s$"),
    (430, 258, "(b) dihedral amplitude in $deg$"),
    (145, 556, "(c) internal twist reference in $deg$"),
    (431, 556, "(d) internal twist amplitude in $deg$"),
    (766, 556, "(e) internal twist phase"),
    (145, 854, "(f) external twist reference in $deg$"),
    (433, 854, "(g) external twist amplitude in $deg$"),
    (766, 854, "(h) external twist phase"),
]
for cx, cy, txt in captions:
    fig.text(cx / W, 1 - cy / H, txt, ha="center", va="center",
             fontsize=14.5, family="Liberation Serif")

fig.savefig("out.png", dpi=100)
